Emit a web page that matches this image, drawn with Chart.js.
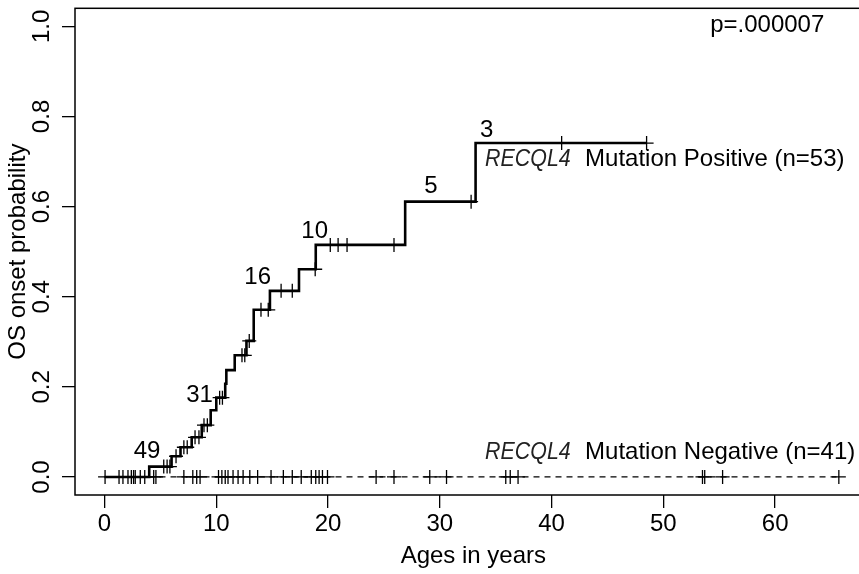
<!DOCTYPE html>
<html>
<head>
<meta charset="utf-8">
<script src="https://cdn.jsdelivr.net/npm/chart.js@4"></script>
<style>
  html, body { margin: 0; padding: 0; overflow: hidden; background: #fff; }
  canvas { display: block; }
</style>
</head>
<body>
<canvas id="km" width="880" height="574"></canvas>
<script>
// axis ticks
const xTicks = [0, 10, 20, 30, 40, 50, 60];
const yTicks = [0, 0.2, 0.4, 0.6, 0.8, 1.0];
const yTickLabels = ['0.0', '0.2', '0.4', '0.6', '0.8', '1.0'];

// RECQL4 mutation positive: step times and cumulative onset probability
const posTimes = [0, 4.0, 6.0, 6.8, 7.8, 8.7, 9.5, 10.0, 10.8, 10.9, 11.65, 12.7, 13.35, 14.8, 17.4, 18.9, 26.9, 33.2];
const posProbs = [0, 0.023, 0.046, 0.066, 0.088, 0.115, 0.148, 0.176, 0.207, 0.237, 0.270, 0.302, 0.371, 0.413, 0.461, 0.515, 0.611, 0.741];
const posEnd = 48.5;
const posCensored = [1.65, 2.4, 2.75, 3.2, 5.3, 5.6, 5.85, 6.4, 7.1, 7.4, 8.1, 8.45, 8.9, 9.2, 10.3, 10.55,
  12.3, 12.55, 12.95, 14.0, 14.65, 15.8, 16.8, 18.85, 20.2, 20.9, 21.7, 25.9, 32.8, 40.9, 48.5];

// RECQL4 mutation negative: no events, all censored
const negEnd = 65.7;
const negCensored = [0.05, 1.3, 2.1, 2.6, 3.6, 4.4, 4.6, 7.1, 7.9, 8.25, 8.55, 10.2, 10.5, 10.8, 11.05, 11.5,
  11.95, 12.4, 13.0, 13.7, 14.9, 16.0, 16.8, 17.6, 18.5, 18.9, 19.2, 19.5, 19.95,
  24.3, 25.9, 29.1, 30.6, 35.9, 36.3, 37.0, 53.5, 53.7, 55.3, 65.7];

// numbers at risk written along the positive curve
const riskTimes = [3.8, 8.5, 13.7, 18.8, 29.2, 34.2];
const riskProbs = [0.057, 0.18, 0.442, 0.546, 0.644, 0.77];
const riskLabels = ['49', '31', '16', '10', '5', '3'];

const FONT = '"Liberation Sans", Arial, Helvetica, sans-serif';

function probAt(t) {
  let p = 0;
  for (let i = 0; i < posTimes.length; i++) {
    if (posTimes[i] <= t) p = posProbs[i];
  }
  return p;
}

const posLine = posTimes.map((t, i) => ({ x: t, y: posProbs[i] }));
posLine.push({ x: posEnd, y: posProbs[posProbs.length - 1] });

const extras = {
  id: 'extras',
  afterDraw(chart) {
    const { ctx, chartArea: a, scales: { x, y } } = chart;
    ctx.save();
    ctx.strokeStyle = '#000';
    ctx.lineWidth = 1.5;
    ctx.strokeRect(a.left, a.top, a.right - a.left, a.bottom - a.top);

    ctx.fillStyle = '#000';
    ctx.font = '24px ' + FONT;

    // rotated y tick labels
    yTicks.forEach((v, i) => {
      ctx.save();
      ctx.translate(42.5, y.getPixelForValue(v));
      ctx.rotate(-Math.PI / 2);
      ctx.textAlign = 'center';
      ctx.textBaseline = 'middle';
      ctx.fillText(yTickLabels[i], 0, 0);
      ctx.restore();
    });

    // numbers at risk
    ctx.textAlign = 'center';
    ctx.textBaseline = 'middle';
    riskTimes.forEach((t, i) => {
      ctx.fillText(riskLabels[i], x.getPixelForValue(t), y.getPixelForValue(riskProbs[i]));
    });

    // p value
    ctx.textAlign = 'right';
    ctx.textBaseline = 'alphabetic';
    ctx.fillText('p=.000007', x.getPixelForValue(64.4), y.getPixelForValue(0.988));

    // group labels
    function groupLabel(t, p, rest) {
      const px = x.getPixelForValue(t), py = y.getPixelForValue(p);
      ctx.save();
      ctx.font = 'italic 23px ' + FONT;
      ctx.fillStyle = '#222';
      ctx.textAlign = 'left';
      ctx.translate(px, py);
      ctx.scale(0.93, 1);
      ctx.fillText('RECQL4', 0, 0);
      ctx.restore();
      ctx.textAlign = 'left';
      ctx.fillText(rest, px + 100, py);
    }
    groupLabel(34.05, 0.689, 'Mutation Positive (n=53)');
    groupLabel(34.05, 0.04, 'Mutation Negative (n=41)');
    ctx.restore();
  }
};

new Chart(document.getElementById('km'), {
  type: 'scatter',
  data: {
    datasets: [
      {
        data: [{ x: 0, y: 0 }, { x: negEnd, y: 0 }],
        showLine: true,
        borderColor: '#000',
        borderWidth: 1.2,
        borderDash: [6, 5],
        pointRadius: 0
      },
      {
        data: negCensored.map(t => ({ x: t, y: 0 })),
        showLine: false,
        pointStyle: 'cross',
        pointRadius: 7,
        borderColor: '#000',
        pointBorderWidth: 1.3
      },
      {
        data: posLine,
        showLine: true,
        stepped: true,
        borderColor: '#000',
        borderWidth: 2.6,
        pointRadius: 0
      },
      {
        data: posCensored.map(t => ({ x: t, y: probAt(t) })),
        showLine: false,
        pointStyle: 'cross',
        pointRadius: 7,
        borderColor: '#000',
        pointBorderWidth: 1.3
      }
    ]
  },
  options: {
    responsive: false,
    animation: false,
    layout: { padding: { left: 6, top: 6.5, right: 4.5, bottom: 6 } },
    plugins: { legend: { display: false }, tooltip: { enabled: false } },
    scales: {
      x: {
        type: 'linear',
        min: -2.64,
        max: 68.64,
        afterBuildTicks: s => { s.ticks = xTicks.map(v => ({ value: v })); },
        grid: { drawOnChartArea: false, drawTicks: true, tickLength: 13, color: '#000', lineWidth: 1.3 },
        border: { display: false },
        ticks: { color: '#000', padding: 4, maxRotation: 0, font: { family: FONT, size: 24, lineHeight: 1 } },
        title: { display: true, text: 'Ages in years', color: '#000', padding: { top: 4, bottom: 0 },
                 font: { family: FONT, size: 24, lineHeight: 1 } }
      },
      y: {
        type: 'linear',
        min: -0.04,
        max: 1.04,
        afterBuildTicks: s => { s.ticks = yTicks.map(v => ({ value: v })); },
        grid: { drawOnChartArea: false, drawTicks: true, tickLength: 13, color: '#000', lineWidth: 1.3 },
        border: { display: false },
        ticks: { display: false },
        title: { display: true, text: 'OS onset probability', color: '#000', padding: { top: 0, bottom: 32 },
                 font: { family: FONT, size: 24, lineHeight: 1 } }
      }
    }
  },
  plugins: [extras]
});
</script>
</body>
</html>
